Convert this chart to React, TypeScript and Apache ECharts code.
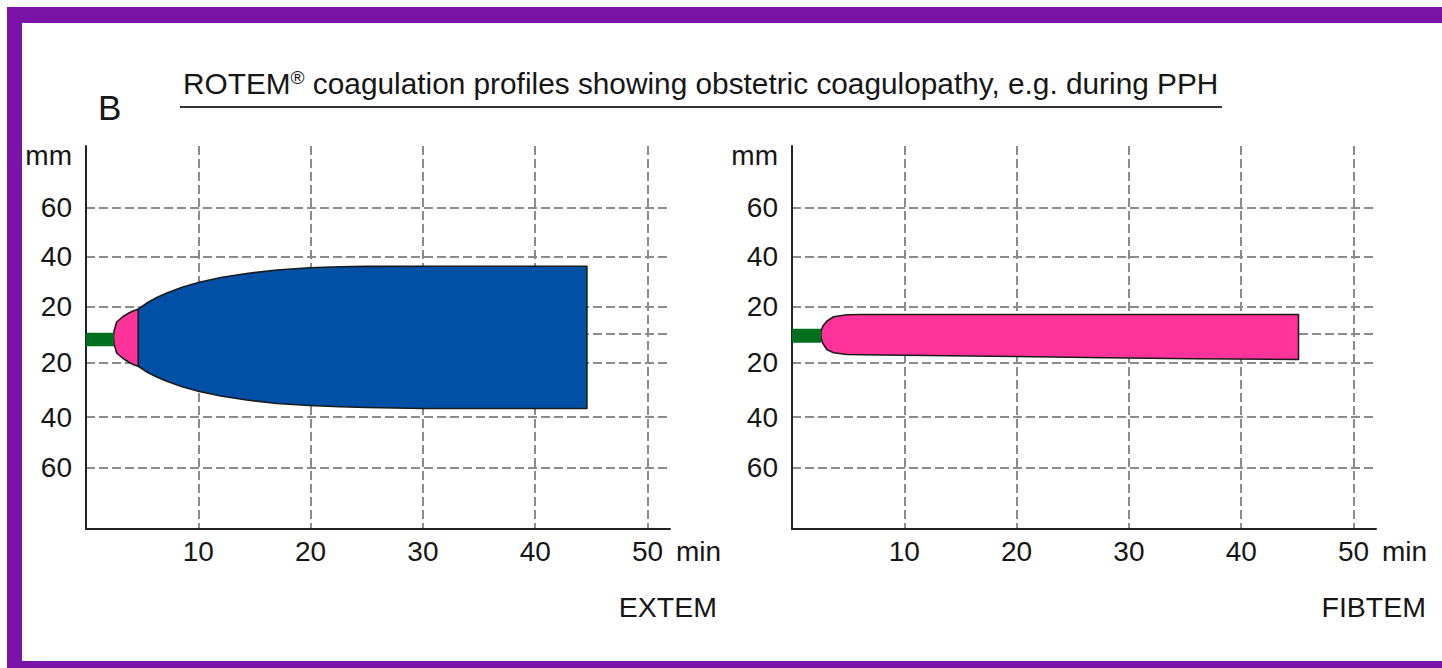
import React, { useEffect, useRef } from "react";
import * as echarts from "echarts";

// ---- axes ----
const xTicks = [10, 20, 30, 40, 50];
const xTickLabels = ["10", "20", "30", "40", "50"];
const xMin = 0;
const xMax = 52;
const yMin = -76.6;
const yMax = 76.6;
const yGridValues = [52, 32.5, 12.4, 1.6, -10, -31.8, -52];
const yLabelValues = [72.8, 52, 32.5, 12.4, -10, -31.8, -52];
const yLabelTexts = ["mm", "60", "40", "20", "20", "40", "60"];

// ---- EXTEM trace (time in min, upper / lower trace edge) ----
const extemCtTime = [0, 2.5];
const extemCtUpper = [1.9, 1.9];
const extemCtLower = [-3.5, -3.5];
const extemCftTime = [2.45, 2.5, 2.73, 3.3, 3.9, 4.3, 4.65];
const extemCftUpper = [0, 2.6, 6.2, 8.4, 10, 10.8, 11.3];
const extemCftLower = [0, -2.6, -6.2, -8.4, -10.1, -11, -11.5];
const extemMcfTime = [4.65, 5.5, 6.3, 7.2, 8.5, 10, 12, 14.3, 17, 19.9, 22.6, 25, 30, 35, 44.6];
const extemMcfUpper = [11.3, 14.0, 16.0, 17.8, 20.0, 22.0, 24.0, 25.6, 27.0, 27.9, 28.3, 28.45, 28.5, 28.5, 28.5];
const extemMcfLower = [-11.5, -14.0, -15.8, -17.5, -19.6, -21.5, -23.4, -25.0, -26.4, -27.2, -27.7, -28.0, -28.4, -28.4, -28.4];

// ---- FIBTEM trace ----
const fibtemCtTime = [0, 2.6];
const fibtemCtUpper = [3.5, 3.5];
const fibtemCtLower = [-2.1, -2.1];
const fibtemMcfTime = [2.56, 2.62, 2.75, 3.1, 3.7, 4.9, 6.3, 12, 20, 28, 36, 45.1];
const fibtemMcfUpper = [1.2, 3.0, 4.6, 6.5, 8.3, 9.1, 9.2, 9.2, 9.2, 9.2, 9.2, 9.2];
const fibtemMcfLower = [1.2, -0.8, -2.4, -4.8, -6.1, -6.8, -6.9, -7.2, -7.6, -8.1, -8.5, -8.8];

const FONT = "'Liberation Sans', Arial, Helvetica, sans-serif";
const TEXT = "#161616";
const GRID = "#8c8c8c";
const AXIS = "#222222";
const BLUE = "#0050a6";
const PINK = "#ff3399";
const GREEN = "#00701f";
const OUTLINE = "#1a1a1a";
const PURPLE = "#7a14a8";

function band(
  name: string,
  idx: number,
  time: number[],
  upper: number[],
  lower: number[],
  fill: string,
  stroke: string | null,
  z: number
) {
  return {
    type: "custom",
    name,
    xAxisIndex: idx,
    yAxisIndex: idx,
    z,
    clip: false,
    silent: true,
    data: time.map((t, i) => [t, upper[i], lower[i]]),
    encode: { x: 0, y: [1, 2] },
    renderItem: (params: any, api: any) => {
      if (params.dataIndex !== 0) return null;
      const pts: number[][] = [];
      for (let i = 0; i < time.length; i++) pts.push(api.coord([time[i], upper[i]]));
      for (let i = time.length - 1; i >= 0; i--) pts.push(api.coord([time[i], lower[i]]));
      return {
        type: "polygon",
        shape: { points: pts },
        style: stroke
          ? { fill, stroke, lineWidth: 1.6, lineJoin: "round" }
          : { fill, stroke: null, lineWidth: 0 },
      };
    },
  };
}

function xAxis(g: number) {
  return {
    type: "value",
    gridIndex: g,
    min: xMin,
    max: xMax,
    axisLine: { show: true, onZero: false, lineStyle: { color: AXIS, width: 2 } },
    axisTick: { show: false, customValues: xTicks },
    axisLabel: {
      customValues: xTicks,
      formatter: (v: number) => {
        const i = xTicks.indexOf(v);
        return i >= 0 ? xTickLabels[i] : "";
      },
      fontSize: 28,
      fontFamily: FONT,
      color: TEXT,
      margin: 8,
    },
    splitLine: { show: true, lineStyle: { color: GRID, width: 2, type: [9, 4] } },
    name: "min",
    nameLocation: "end",
    nameGap: 6,
    nameTextStyle: {
      fontSize: 28,
      fontFamily: FONT,
      color: TEXT,
      align: "left",
      verticalAlign: "top",
      padding: [8, 0, 0, 0],
    },
  };
}

function yAxis(g: number) {
  return {
    type: "value",
    gridIndex: g,
    min: yMin,
    max: yMax,
    axisLine: { show: true, onZero: false, lineStyle: { color: AXIS, width: 2 } },
    axisTick: { show: false, customValues: yGridValues },
    axisLabel: {
      customValues: yLabelValues,
      formatter: (v: number) => {
        const i = yLabelValues.findIndex((u) => Math.abs(u - v) < 1e-6);
        return i >= 0 ? yLabelTexts[i] : "";
      },
      fontSize: 28,
      fontFamily: FONT,
      color: TEXT,
      margin: 14,
    },
    splitLine: { show: true, lineStyle: { color: GRID, width: 2, type: [9, 4] } },
  };
}

export default function App() {
  const ref = useRef<HTMLDivElement>(null);
  useEffect(() => {
    if (!ref.current) return;
    const chart = echarts.init(ref.current, undefined, { renderer: "svg" });
    chart.setOption({
      animation: false,
      backgroundColor: "#ffffff",
      title: [
        {
          text: "{a|ROTEM}{r|®}{a| coagulation profiles showing obstetric coagulopathy, e.g. during PPH}",
          left: 183,
          top: 68,
          padding: 0,
          textStyle: {
            fontWeight: "normal",
            rich: {
              a: { fontSize: 29.8, fontFamily: FONT, color: TEXT, fontWeight: "normal" },
              r: {
                fontSize: 19,
                fontFamily: FONT,
                color: TEXT,
                fontWeight: "normal",
                verticalAlign: "top",
                padding: [0, 0, 10, 0],
              },
            },
          },
        },
        {
          text: "B",
          left: 98,
          top: 90,
          padding: 0,
          textStyle: { fontSize: 35, fontFamily: FONT, color: TEXT, fontWeight: "normal" },
        },
        {
          text: "EXTEM",
          right: 725,
          top: 592,
          padding: 0,
          textStyle: { fontSize: 28.5, fontFamily: FONT, color: TEXT, fontWeight: "normal" },
        },
        {
          text: "FIBTEM",
          right: 16,
          top: 592,
          padding: 0,
          textStyle: { fontSize: 28.5, fontFamily: FONT, color: TEXT, fontWeight: "normal" },
        },
      ],
      graphic: [
        { type: "rect", shape: { x: 7, y: 7, width: 1442, height: 16 }, style: { fill: PURPLE }, silent: true },
        { type: "rect", shape: { x: 7, y: 7, width: 15, height: 661 }, style: { fill: PURPLE }, silent: true },
        { type: "rect", shape: { x: 7, y: 661, width: 1442, height: 10 }, style: { fill: PURPLE }, silent: true },
        {
          type: "line",
          shape: { x1: 180, y1: 107, x2: 1222, y2: 107 },
          style: { stroke: "#333333", lineWidth: 2 },
          silent: true,
        },
      ],
      grid: [
        { left: 86, top: 146, width: 584, height: 383 },
        { left: 792, top: 146, width: 584, height: 383 },
      ],
      xAxis: [xAxis(0), xAxis(1)],
      yAxis: [yAxis(0), yAxis(1)],
      series: [
        band("EXTEM MCF", 0, extemMcfTime, extemMcfUpper, extemMcfLower, BLUE, OUTLINE, 2),
        band("EXTEM CFT", 0, extemCftTime, extemCftUpper, extemCftLower, PINK, OUTLINE, 3),
        band("EXTEM CT", 0, extemCtTime, extemCtUpper, extemCtLower, GREEN, null, 4),
        band("FIBTEM MCF", 1, fibtemMcfTime, fibtemMcfUpper, fibtemMcfLower, PINK, OUTLINE, 3),
        band("FIBTEM CT", 1, fibtemCtTime, fibtemCtUpper, fibtemCtLower, GREEN, null, 4),
      ],
    });
    return () => chart.dispose();
  }, []);
  return (
    <div
      ref={ref}
      style={{ position: "absolute", left: 0, top: 0, width: 1442, height: 668 }}
    />
  );
}
